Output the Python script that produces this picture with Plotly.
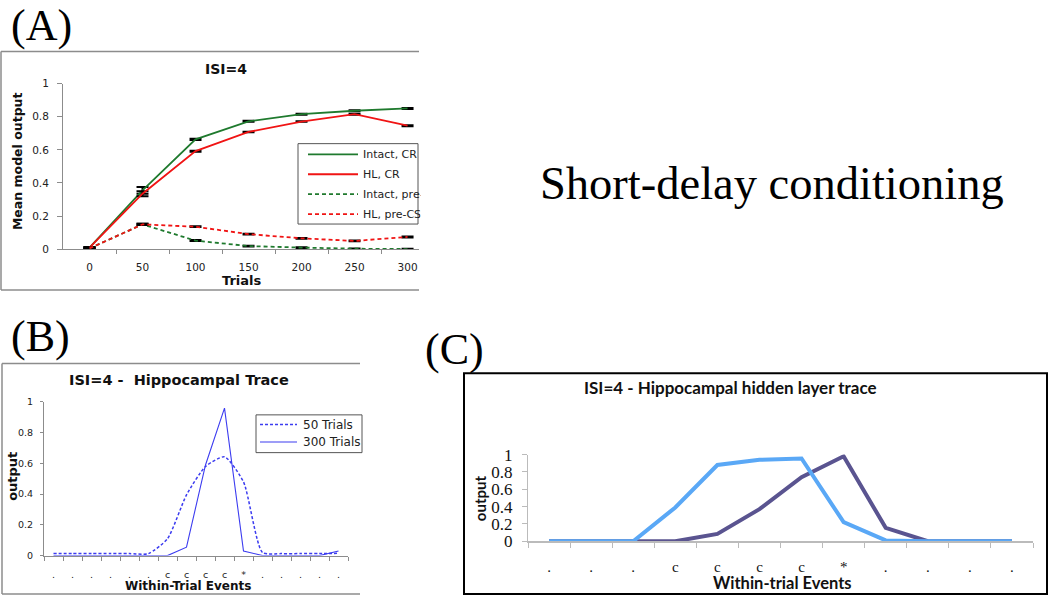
import plotly.graph_objs as go

W, H = 1050, 606

# ---- panel A data ----
trials = [0, 50, 100, 150, 200, 250, 300]
intact_cr = [0.01, 0.355, 0.663, 0.772, 0.815, 0.836, 0.85]
hl_cr = [0.01, 0.335, 0.592, 0.708, 0.771, 0.815, 0.746]
intact_pre = [0.005, 0.15, 0.052, 0.019, 0.01, 0.003, 0.001]
hl_pre = [0.005, 0.15, 0.136, 0.091, 0.066, 0.05, 0.074]
intact_cr_err = [0.004, 0.02, 0.004, 0.003, 0.003, 0.003, 0.003]
hl_cr_err = [0.004, 0.015, 0.003, 0.002, 0.002, 0.003, 0.003]
intact_pre_err = [0.004, 0.004, 0.003, 0.002, 0.002, 0.002, 0.002]
hl_pre_err = [0.004, 0.004, 0.002, 0.002, 0.002, 0.002, 0.003]

# ---- panel B data ----
b_events = [".", ".", ".", ".", ".", ".", "c", "c", "c", "c", "*", ".", ".", ".", ".", "."]
b_50 = [0.013, 0.013, 0.013, 0.013, 0.013, 0.013, 0.11, 0.395, 0.58, 0.643, 0.48, 0.02, 0.013, 0.013, 0.013, 0.015]
b_300 = [0, 0, 0, 0, 0, 0, 0, 0.055, 0.59, 0.96, 0.03, 0, 0, 0, 0, 0.03]

# ---- panel C data ----
c_events = [".", ".", ".", "c", "c", "c", "c", "*", ".", ".", ".", "."]
c_light = [0, 0, 0, 0.39, 0.88, 0.94, 0.955, 0.22, 0.01, 0, 0, 0]
c_dark = [0, 0, 0, 0, 0.085, 0.37, 0.74, 0.98, 0.155, 0, 0, 0]

VERDANA = "DejaVu Sans"
TIMES = "Liberation Serif"
CALIBRI = "Lato"
GREEN = "#1f7a2e"
RED = "#f01414"
BLUE = "#3c3cf0"
LIGHT = "#5aa8f6"
DARK = "#5a5490"
GRAY = "#8c8c8c"


def px(x):
    return x / W


def py(y):
    return 1 - y / H


fig = go.Figure()

# panel A traces
for vals, err, col, dash in [
    (intact_cr, intact_cr_err, GREEN, "solid"),
    (hl_cr, hl_cr_err, RED, "solid"),
    (intact_pre, intact_pre_err, GREEN, "4px,3px"),
    (hl_pre, hl_pre_err, RED, "4px,3px"),
]:
    fig.add_trace(go.Scatter(
        x=trials, y=vals, mode="lines", xaxis="x", yaxis="y",
        line=dict(color=col, width=1.8, dash=dash), cliponaxis=False,
        error_y=dict(type="data", array=err, color="black", thickness=2, width=6),
    ))

# panel B traces
b_x = list(range(len(b_events)))
fig.add_trace(go.Scatter(x=b_x, y=b_50, mode="lines", xaxis="x2", yaxis="y2",
                         line=dict(color=BLUE, width=1.5, dash="3px,2px", shape="spline", smoothing=0.6),
                         cliponaxis=False))
fig.add_trace(go.Scatter(x=b_x, y=b_300, mode="lines", xaxis="x2", yaxis="y2",
                         line=dict(color=BLUE, width=1.1), cliponaxis=False))

# panel C traces
c_x = list(range(len(c_events)))
fig.add_trace(go.Scatter(x=c_x, y=c_dark, mode="lines", xaxis="x3", yaxis="y3",
                         line=dict(color=DARK, width=4), cliponaxis=False))
fig.add_trace(go.Scatter(x=c_x, y=c_light, mode="lines", xaxis="x3", yaxis="y3",
                         line=dict(color=LIGHT, width=4), cliponaxis=False))

small = dict(family=VERDANA, size=10.5, color="#222")
fig.update_layout(
    width=W, height=H, autosize=False, margin=dict(l=0, r=0, t=0, b=0),
    paper_bgcolor="white", plot_bgcolor="white", showlegend=False, hovermode=False,
    xaxis=dict(domain=[px(63), px(419)], anchor="y", range=[-25, 310.8], tickvals=trials, ticks="",
               showline=True, linecolor=GRAY, showgrid=False, zeroline=False,
               tickfont=small, ticklabelstandoff=8,
               minor=dict(tickvals=[25, 75, 125, 175, 225, 275], ticks="outside", ticklen=4, tickcolor=GRAY)),
    yaxis=dict(domain=[py(248), py(77)], anchor="x", range=[0, 1], dtick=0.2, ticks="outside", ticklen=5,
               tickcolor=GRAY, showline=True, linecolor=GRAY, showgrid=False, zeroline=False,
               tickfont=small, ticklabelstandoff=6),
    xaxis2=dict(domain=[px(44), px(348)], anchor="y2", range=[-0.5, 15.5], tickvals=b_x, ticktext=b_events,
                ticks="", showline=True, linecolor=GRAY, showgrid=False, zeroline=False,
                tickfont=dict(family=VERDANA, size=9.5, color="#222"), ticklabelstandoff=10,
                minor=dict(tickvals=[i + 0.5 for i in range(-1, 16)], ticks="outside", ticklen=4, tickcolor=GRAY)),
    yaxis2=dict(domain=[py(564.3), py(405.7)], anchor="x2", range=[0, 1], dtick=0.2, ticks="outside", ticklen=3,
                tickcolor=GRAY, showline=True, linecolor=GRAY, showgrid=False, zeroline=False,
                tickfont=dict(family=VERDANA, size=9.5, color="#222"), ticklabelstandoff=5),
    xaxis3=dict(domain=[px(528), px(1033)], anchor="y3", range=[-0.5, 11.5], tickvals=c_x, ticktext=c_events,
                ticks="", showline=True, linecolor="#bbbbbb", linewidth=1.5, showgrid=False, zeroline=False,
                tickfont=dict(family=TIMES, size=15, color="#111"), ticklabelstandoff=11,
                minor=dict(tickvals=[i + 0.5 for i in range(-1, 12)], ticks="outside", ticklen=5,
                           tickcolor="#bbbbbb")),
    yaxis3=dict(domain=[py(549.5), py(460)], anchor="x3", range=[0, 1], dtick=0.2, ticks="outside", ticklen=5,
                tickcolor="#bbbbbb", showline=True, linecolor="#bbbbbb", showgrid=False, zeroline=False,
                tickfont=dict(family=TIMES, size=17, color="#111"), ticklabelstandoff=6),
)

shapes = []


def seg(x0, y0, x1, y1, color, width=1.0, dash="solid"):
    shapes.append(dict(type="line", xref="paper", yref="paper", x0=px(x0), y0=py(y0), x1=px(x1), y1=py(y1),
                       line=dict(color=color, width=width, dash=dash)))


# panel frames (A and B are cropped on the right)
seg(1, 44, 419, 44, GRAY, 1.5)
seg(1, 44, 1, 290, GRAY, 1.5)
seg(1, 290, 419, 290, GRAY, 1.5)
seg(2, 366, 360, 366, GRAY, 1.5)
seg(2, 366, 2, 604, GRAY, 1.5)
seg(2, 604, 360, 604, GRAY, 1.5)
shapes.append(dict(type="rect", xref="paper", yref="paper", x0=px(464), y0=py(604), x1=px(1047), y1=py(376),
                   line=dict(color="black", width=2)))

# legend boxes
shapes.append(dict(type="rect", xref="paper", yref="paper", x0=px(298), y0=py(222), x1=px(418), y1=py(139),
                   line=dict(color="#555", width=1), fillcolor="white"))
shapes.append(dict(type="rect", xref="paper", yref="paper", x0=px(256), y0=py(458), x1=px(362), y1=py(419),
                   line=dict(color="#555", width=1), fillcolor="white"))

annotations = []


def text(x, y, s, font, xanchor="center", angle=0, yanchor="middle"):
    annotations.append(dict(x=px(x), y=py(y), xref="paper", yref="paper", text=s, showarrow=False,
                            xanchor=xanchor, yanchor=yanchor, font=font, textangle=angle))


a_legend = [("Intact, CR", GREEN, "solid"), ("HL, CR", RED, "solid"),
            ("Intact, pre-CS", GREEN, "4px,3px"), ("HL, pre-CS", RED, "4px,3px")]
for i, (name, col, dash) in enumerate(a_legend):
    yy = 150 + i * 20.6
    seg(308, yy, 358, yy, col, 1.8, dash)
    text(361, yy, name, dict(family=VERDANA, size=11, color="#222"), "left")

b_legend = [("50 Trials", "3px,2px", 1.5), ("300 Trials", "solid", 1.1)]
for i, (name, dash, wd) in enumerate(b_legend):
    yy = 429 + i * 18
    seg(260, yy, 297, yy, BLUE, wd, dash)
    text(301, yy, name, dict(family=VERDANA, size=12, color="#222"), "left")

# cover the cropped right edge of panels A and B
annotations.append(dict(x=px(419.5), y=py(180), xref="paper", yref="paper", text="\u00a0", showarrow=False,
                        xanchor="left", yanchor="middle", width=40, height=100, bgcolor="white"))
annotations.append(dict(x=px(362.5), y=py(438), xref="paper", yref="paper", text="\u00a0", showarrow=False,
                        xanchor="left", yanchor="middle", width=40, height=40, bgcolor="white"))

serif_big = dict(family=TIMES, size=44, color="black")
text(9, 17, "(A)", serif_big, "left")
text(9, 338, "(B)", serif_big, "left")
text(423, 352, "(C)", serif_big, "left")
text(772, 180, "Short-delay conditioning", dict(family=TIMES, size=46.5, color="black"))

text(226, 62, "<b>ISI=4</b>", dict(family=VERDANA, size=14, color="#111"))
text(17, 157, "<b>Mean model output</b>", dict(family=VERDANA, size=12.5, color="#111"), angle=-90)
text(242, 280, "<b>Trials</b>", dict(family=VERDANA, size=13, color="#111"))

text(179, 383, "<b>ISI=4 -\u00a0 Hippocampal Trace</b>", dict(family=VERDANA, size=14.5, color="#111"))
text(13, 483, "<b>output</b>", dict(family=VERDANA, size=13, color="#111"), angle=-90)
text(188, 595.5, "<b>Within-Trial Events</b>", dict(family=VERDANA, size=12, color="#111"))

text(730, 391, "<b>ISI=4 - Hippocampal hidden layer trace</b>", dict(family=CALIBRI, size=17, color="#111"))
text(480, 505, "<b>output</b>", dict(family=CALIBRI, size=15, color="#111"), angle=-90)
text(782, 593, "<b>Within-trial Events</b>", dict(family=CALIBRI, size=16.5, color="#111"))

fig.update_layout(shapes=shapes, annotations=annotations)
fig.write_html("out.html", config={"displayModeBar": False, "staticPlot": True},
               post_script="document.body.style.margin='0';")
